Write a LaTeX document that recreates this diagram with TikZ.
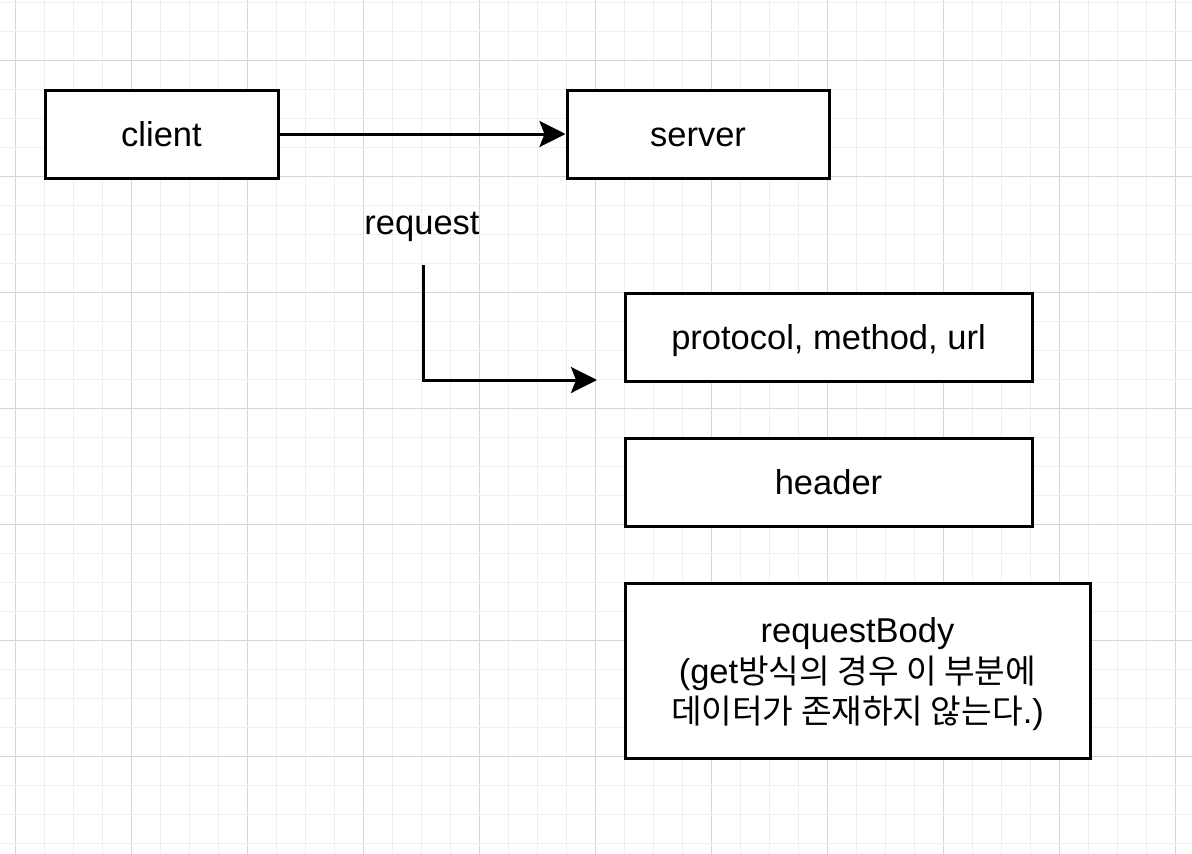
\documentclass[tikz,border=0pt]{standalone}
\usepackage{fontspec}
\setmainfont{Liberation Sans}
\newfontfamily\kr[Scale=0.965]{Noto Sans CJK KR}
\usetikzlibrary{arrows.meta}
\definecolor{gridminor}{HTML}{EFEFEF}
\definecolor{gridmajor}{HTML}{D6D6D6}
\tikzset{
  boxnode/.style={draw=black, line width=3pt, fill=white, inner sep=0pt, align=center,
    font=\fontsize{34.5}{41}\selectfont, text height=28pt, text depth=3pt},
  emptybox/.style={draw=black, line width=3pt, fill=white, inner sep=0pt},
  labelnode/.style={inner sep=0pt, font=\fontsize{34.5}{40.5}\selectfont},
  arr/.style={draw=black, line width=3pt, -{Stealth[length=26pt,width=26pt,inset=5pt]}},
}
\begin{document}
\begin{tikzpicture}[x=1pt,y=-1pt]
\useasboundingbox (0,0) rectangle (1192,854);
\fill[white] (0,0) rectangle (1192,854);
% grid
\foreach \k in {0,...,40}{
  \pgfmathtruncatemacro{\m}{mod(\k,4)}
  \ifnum\m=0
    \draw[gridmajor, line width=1pt] ({15+29*\k},0) -- ({15+29*\k},854);
  \else
    \draw[gridminor, line width=1pt] ({15+29*\k},0) -- ({15+29*\k},854);
  \fi
}
\foreach \k in {0,...,29}{
  \pgfmathtruncatemacro{\m}{mod(\k,4)}
  \ifnum\m=2
    \draw[gridmajor, line width=1pt] (0,{2+29*\k}) -- (1192,{2+29*\k});
  \else
    \draw[gridminor, line width=1pt] (0,{2+29*\k}) -- (1192,{2+29*\k});
  \fi
}
% nodes
\node[boxnode, minimum width=233pt, minimum height=88pt] (client) at (161.5,134) {client};
\node[boxnode, minimum width=262pt, minimum height=88pt] (server) at (698,134) {server};
\node[labelnode, anchor=base] (request) at (422,234) {request};
\node[boxnode, minimum width=407pt, minimum height=88pt] (proto) at (828.5,337) {protocol, method, url};
\node[boxnode, minimum width=407pt, minimum height=88pt] (header) at (828.5,482) {header};
\node[emptybox, minimum width=465pt, minimum height=175pt] (body) at (857.5,670.5) {};
\node[labelnode, align=center] (bodytext) at (857.5,674.5)
  {requestBody\\(get{\kr 방식의 경우 이 부분에}\\{\kr 데이터가 존재하지 않는다}.)};
\coordinate (rstart) at (423,265);
\coordinate (rend) at (597,380);
% connectors
\draw[arr] (client) -- (server);
\draw[arr] (rstart) |- (rend);
\end{tikzpicture}
\end{document}
